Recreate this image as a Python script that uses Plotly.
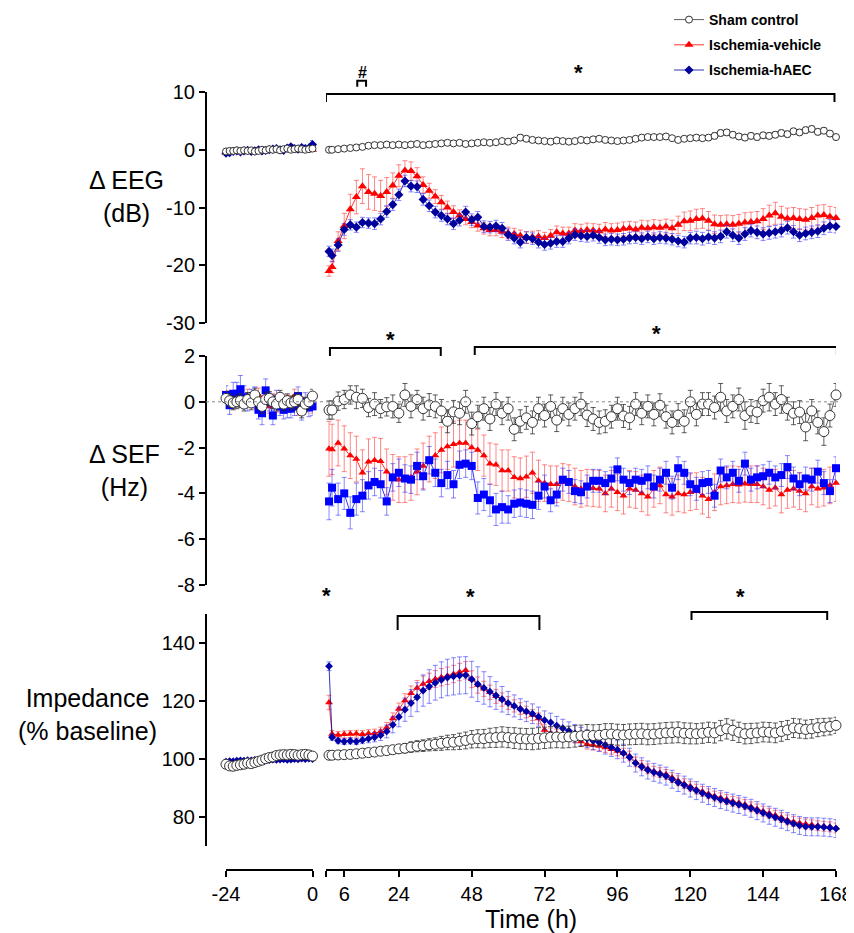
import plotly.graph_objects as go

# ---------------- DATA ----------------
hours_base = [-24, -23, -22, -21, -20, -19, -18, -17, -16, -15, -14, -13, -12,
              -11, -10, -9, -8, -7, -6, -5, -4, -3, -2, -1, 0]
hours_post = [1,
              2, 4, 6, 8, 10, 12, 14, 16, 18, 20,
              22, 24, 26, 28, 30, 32, 34, 36, 38, 40,
              42, 44, 46, 48, 50, 52, 54, 56, 58, 60,
              62, 64, 66, 68, 70, 72, 74, 76, 78, 80,
              82, 84, 86, 88, 90, 92, 94, 96, 98, 100,
              102, 104, 106, 108, 110, 112, 114, 116, 118, 120,
              122, 124, 126, 128, 130, 132, 134, 136, 138, 140,
              142, 144, 146, 148, 150, 152, 154, 156, 158, 160,
              162, 164, 166, 168]
x_ticks_post = [0, 6, 24, 48, 72, 96, 120, 144, 168]
x_ticktext_post = ["", "6", "24", "48", "72", "96", "120", "144", "168"]
x_ticks_base = [-24, 0]
x_ticktext_base = ["-24", "0"]
eeg_ticks = [-30, -20, -10, 0, 10]
eeg_ticktext = ["-30", "-20", "-10", "0", "10"]
sef_ticks = [-8, -6, -4, -2, 0, 2]
sef_ticktext = ["-8", "-6", "-4", "-2", "0", "2"]
imp_ticks = [80, 100, 120, 140]
imp_ticktext = ["80", "100", "120", "140"]

# ---- EEG (dB) ----
eeg_sham_base = [-0.3, -0.2, -0.2, -0.1, -0.2, -0.1, -0.2, -0.1, -0.3, -0.2, 0.0, -0.1, 0.1,
                 0.0, 0.1, -0.1, 0.1, 0.2, 0.0, 0.1, 0.2, 0.1, 0.0, 0.1, 0.2]
eeg_veh_base = [-0.5, -0.4, -0.4, -0.3, -0.3, -0.2, -0.4, -0.3, -0.2, -0.3, -0.1, -0.2, -0.1,
                0.0, -0.1, -0.1, 0.0, 0.1, 0.0, -0.1, 0.0, 0.1, 0.0, 0.1, 0.0]
eeg_haec_base = [-0.6, -0.5, -0.3, -0.2, -0.4, -0.2, -0.1, -0.3, -0.2, 0.0, -0.2, -0.1, 0.0,
                 0.1, 0.2, 0.0, -0.1, 0.3, 0.5, 0.2, 0.1, 0.4, 0.2, 0.3, 0.9]
eeg_sham_base_err = [0.2, 0.2, 0.2, 0.2, 0.2, 0.2, 0.2, 0.2, 0.2, 0.2, 0.2, 0.2, 0.2,
                     0.2, 0.2, 0.2, 0.2, 0.2, 0.2, 0.2, 0.2, 0.2, 0.2, 0.2, 0.2]
eeg_veh_base_err = [0.3, 0.3, 0.3, 0.3, 0.3, 0.3, 0.3, 0.3, 0.3, 0.3, 0.3, 0.3, 0.3,
                    0.3, 0.3, 0.3, 0.3, 0.3, 0.3, 0.3, 0.3, 0.3, 0.3, 0.3, 0.3]
eeg_haec_base_err = [0.3, 0.3, 0.3, 0.3, 0.3, 0.3, 0.3, 0.3, 0.3, 0.3, 0.3, 0.3, 0.3,
                     0.3, 0.3, 0.3, 0.3, 0.4, 0.4, 0.3, 0.3, 0.4, 0.3, 0.4, 0.7]

eeg_sham = [0.0,
            0.0, 0.1, 0.2, 0.3, 0.4, 0.5, 0.7, 0.8, 0.8, 0.9,
            0.8, 0.9, 0.8, 0.9, 1.0, 0.8, 0.9, 1.0, 1.1, 1.2,
            1.1, 1.2, 1.0, 1.1, 1.2, 1.3, 1.2, 1.3, 1.5, 1.4,
            1.6, 2.1, 1.9, 1.7, 1.6, 1.5, 1.4, 1.6, 1.5, 1.4,
            1.5, 1.7, 1.6, 1.8, 1.9, 1.7, 1.6, 1.5, 1.6, 1.7,
            1.9, 2.1, 2.2, 2.2, 2.2, 2.3, 2.0, 1.7, 1.9, 2.0,
            2.1, 2.0, 2.1, 2.4, 2.9, 3.0, 2.6, 2.3, 2.1, 2.4,
            2.2, 2.5, 2.4, 2.6, 2.9, 2.7, 3.2, 3.0, 3.4, 3.6,
            3.1, 3.3, 2.8, 2.2]
eeg_veh = [-21.0,
           -20.3, -15.8, -13.2, -10.3, -8.2, -6.3, -7.3, -7.6, -8.0, -7.3,
           -6.2, -4.5, -3.6, -3.7, -4.6, -6.1, -7.1, -8.1, -9.1, -10.0,
           -10.8, -11.4, -12.0, -12.5, -13.1, -13.6, -13.9, -13.9, -14.2, -14.4,
           -14.6, -14.9, -15.2, -15.1, -15.0, -15.3, -14.9, -14.3, -14.5, -14.5,
           -14.0, -14.1, -13.9, -14.0, -14.1, -13.8, -14.0, -13.9, -13.7, -13.6,
           -13.8, -13.5, -13.6, -13.4, -13.5, -13.3, -13.6, -13.0, -12.4, -12.3,
           -12.0, -11.9, -12.3, -12.9, -13.0, -12.9, -13.0, -12.8, -12.6, -12.5,
           -12.4, -12.0, -11.4, -11.0, -11.6, -11.9, -11.8, -12.0, -12.1, -11.8,
           -11.4, -11.3, -11.6, -11.8]
eeg_haec = [-17.6,
            -18.3, -16.5, -13.8, -13.0, -13.4, -12.6, -12.7, -12.8, -12.0, -10.7,
            -9.5, -7.8, -5.4, -6.3, -6.4, -8.6, -9.7, -10.8, -11.4, -12.0,
            -12.8, -12.2, -10.8, -12.1, -11.7, -13.3, -13.4, -13.2, -13.6, -14.7,
            -15.3, -16.0, -15.2, -15.4, -16.0, -16.4, -16.2, -15.9, -15.9, -15.3,
            -14.7, -14.9, -15.0, -14.8, -15.2, -15.6, -15.5, -15.6, -15.5, -15.3,
            -15.2, -15.4, -15.1, -15.4, -15.2, -15.3, -15.5, -15.8, -16.0, -15.3,
            -15.2, -15.4, -15.1, -15.3, -15.0, -14.2, -14.8, -15.3, -14.6, -14.0,
            -14.3, -14.6, -14.4, -14.2, -14.0, -13.5, -14.2, -14.8, -14.5, -14.3,
            -14.1, -13.6, -13.2, -13.3]
eeg_sham_err = [0.2,
                0.2, 0.2, 0.2, 0.2, 0.3, 0.3, 0.3, 0.3, 0.3, 0.3,
                0.3, 0.3, 0.3, 0.3, 0.3, 0.3, 0.3, 0.3, 0.3, 0.3,
                0.3, 0.3, 0.3, 0.3, 0.3, 0.3, 0.3, 0.3, 0.4, 0.4,
                0.4, 0.5, 0.4, 0.4, 0.4, 0.4, 0.4, 0.4, 0.4, 0.4,
                0.4, 0.4, 0.4, 0.4, 0.4, 0.4, 0.4, 0.4, 0.4, 0.4,
                0.4, 0.4, 0.4, 0.4, 0.4, 0.4, 0.4, 0.4, 0.4, 0.4,
                0.4, 0.4, 0.4, 0.5, 0.5, 0.5, 0.5, 0.5, 0.5, 0.5,
                0.5, 0.5, 0.5, 0.5, 0.5, 0.5, 0.5, 0.5, 0.5, 0.5,
                0.5, 0.5, 0.5, 0.5]
eeg_veh_err = [0.9,
               1.0, 1.6, 2.2, 2.6, 2.9, 3.0, 3.0, 2.9, 2.7, 2.5,
               2.2, 1.9, 1.7, 1.6, 1.5, 1.4, 1.3, 1.2, 1.2, 1.1,
               1.1, 1.0, 1.0, 1.0, 1.0, 1.0, 1.0, 1.0, 1.0, 1.0,
               1.0, 1.0, 1.0, 1.0, 1.0, 1.0, 1.1, 1.1, 1.1, 1.1,
               1.2, 1.2, 1.2, 1.2, 1.2, 1.2, 1.2, 1.2, 1.2, 1.2,
               1.3, 1.3, 1.3, 1.3, 1.3, 1.3, 1.4, 1.5, 1.6, 1.7,
               1.7, 1.7, 1.6, 1.6, 1.6, 1.6, 1.6, 1.6, 1.7, 1.7,
               1.7, 1.8, 1.8, 1.9, 1.8, 1.8, 1.8, 1.8, 1.8, 1.8,
               1.8, 1.8, 1.8, 1.8]
eeg_haec_err = [0.9,
                1.1, 1.1, 1.0, 0.9, 0.9, 0.9, 0.9, 1.0, 1.0, 1.0,
                1.0, 1.0, 1.0, 1.0, 1.0, 1.0, 1.0, 1.0, 1.0, 1.0,
                1.0, 1.0, 1.0, 1.0, 1.0, 1.0, 1.0, 1.0, 1.0, 1.0,
                1.0, 1.0, 1.0, 1.0, 1.0, 1.0, 1.0, 1.0, 1.0, 1.0,
                1.0, 1.0, 1.0, 1.0, 1.0, 1.0, 1.0, 1.0, 1.0, 1.0,
                1.0, 1.0, 1.0, 1.0, 1.0, 1.0, 1.0, 1.0, 1.0, 1.0,
                1.1, 1.1, 1.1, 1.1, 1.1, 1.1, 1.1, 1.1, 1.1, 1.1,
                1.1, 1.1, 1.1, 1.1, 1.1, 1.1, 1.1, 1.1, 1.1, 1.1,
                1.1, 1.1, 1.1, 1.1]

# ---- SEF (Hz) ----
sef_sham_base = [0.15, 0.05, -0.05, 0.0, 0.05, -0.1, 0.1, -0.05, 0.3, 0.0, -0.2, 0.1, 0.15,
                 0.0, -0.1, 0.2, -0.1, 0.05, -0.05, 0.0, 0.1, -0.4, -0.1, 0.0, 0.25]
sef_veh_base = [0.2, 0.15, 0.0, 0.2, 0.1, 0.05, 0.25, 0.1, 0.0, 0.3, -0.05, 0.1, -0.2,
                0.05, -0.15, -0.1, -0.2, 0.0, -0.05, 0.25, -0.3, -0.1, -0.15, -0.05, -0.2]
sef_haec_base = [0.3, -0.15, 0.35, 0.35, 0.55, 0.2, 0.0, 0.15, 0.25, -0.35, -0.5, 0.5, 0.0,
                 -0.6, 0.1, -0.2, -0.35, -0.3, -0.3, -0.2, 0.25, -0.4, 0.0, -0.25, -0.2]
sef_sham_base_err = [0.3, 0.3, 0.3, 0.3, 0.3, 0.3, 0.3, 0.3, 0.3, 0.3, 0.3, 0.3, 0.3,
                     0.3, 0.3, 0.3, 0.3, 0.3, 0.3, 0.3, 0.3, 0.3, 0.3, 0.3, 0.3]
sef_veh_base_err = [0.3, 0.3, 0.3, 0.3, 0.3, 0.3, 0.3, 0.3, 0.3, 0.3, 0.3, 0.3, 0.3,
                    0.3, 0.3, 0.3, 0.3, 0.3, 0.3, 0.3, 0.3, 0.3, 0.3, 0.3, 0.3]
sef_haec_base_err = [0.4, 0.4, 0.5, 0.5, 0.6, 0.5, 0.4, 0.4, 0.4, 0.4, 0.5, 0.5, 0.4,
                     0.4, 0.4, 0.4, 0.4, 0.4, 0.4, 0.4, 0.4, 0.4, 0.4, 0.4, 0.4]

sef_sham = [-0.36,
            -0.36, 0.03, 0.1, 0.3, 0.2, 0.15, -0.25, -0.1, -0.3, -0.22,
            -0.2, -0.5, 0.3, -0.2, 0.1, -0.3, -0.14, -0.2, -0.4, -0.85,
            -0.44, -0.5, 0.0, -0.95, -0.65, -0.3, -0.75, -0.1, -0.5, -0.3,
            -1.2, -0.85, -0.7, -0.9, -0.3, -0.6, -0.2, -0.8, -0.3, -0.55,
            -0.3, -0.1, -0.58, -0.75, -0.9, -0.85, -0.65, -0.3, -0.62, -0.7,
            -0.1, -0.5, -0.2, -0.55, -0.15, -0.65, -0.9, -0.58, -0.85, 0.0,
            -0.55, -0.1, -0.1, -0.25, 0.2, -0.4, -0.2, 0.1, -0.6, -0.4,
            -0.45, 0.05, 0.2, -0.1, 0.1, -0.3, -0.5, -0.45, -1.1, -0.4,
            -0.9, -1.3, -0.6, 0.3]
sef_veh = [-2.05,
           -2.08, -1.8, -2.05, -2.35, -2.5, -3.1, -2.62, -2.55, -2.6, -3.06,
           -3.3, -3.4, -3.4, -3.3, -3.06, -2.8, -2.5, -2.35, -2.1, -1.95,
           -1.85, -1.8, -1.8, -2.0, -2.1, -2.35, -2.7, -2.75, -3.0, -3.0,
           -3.3, -3.35, -3.27, -3.1, -3.45, -3.55, -3.6, -3.6, -3.5, -3.55,
           -3.7, -3.8, -3.75, -3.78, -3.8, -4.0, -3.8, -3.95, -4.1, -3.8,
           -3.85, -4.0, -4.15, -3.8, -3.65, -4.05, -4.15, -4.0, -4.05, -3.95,
           -3.9, -4.1, -4.25, -3.95, -3.7, -3.65, -3.6, -3.62, -3.58, -3.6,
           -3.6, -3.7, -3.85, -3.75, -4.05, -3.85, -3.8, -3.9, -4.0, -3.7,
           -3.8, -3.75, -3.65, -3.55]
sef_haec = [-4.35,
            -3.75, -4.25, -4.0, -4.85, -4.25, -4.1, -3.65, -3.5, -3.6, -4.35,
            -3.3, -3.1, -3.35, -3.4, -2.8, -3.25, -2.55, -3.1, -3.55, -3.2,
            -3.6, -2.75, -2.7, -2.8, -4.2, -4.05, -4.3, -4.7, -4.6, -4.7,
            -4.45, -4.4, -4.45, -4.5, -4.1, -3.7, -4.3, -4.05, -3.4, -3.5,
            -3.9, -3.95, -3.7, -3.45, -3.45, -3.55, -3.35, -2.95, -3.4, -3.55,
            -3.4, -3.45, -3.3, -3.7, -3.4, -3.1, -3.75, -2.9, -3.1, -3.6,
            -3.8, -3.55, -3.5, -4.1, -3.0, -3.3, -3.1, -3.45, -2.7, -3.4,
            -3.3, -3.25, -3.1, -3.3, -3.2, -2.85, -3.35, -3.6, -3.35, -3.4,
            -3.05, -3.55, -3.9, -2.9]
sef_sham_err = [0.4,
                0.4, 0.4, 0.4, 0.4, 0.5, 0.4, 0.4, 0.5, 0.4, 0.4,
                0.5, 0.4, 0.5, 0.5, 0.4, 0.5, 0.5, 0.5, 0.5, 0.5,
                0.5, 0.5, 0.5, 0.5, 0.5, 0.5, 0.5, 0.5, 0.5, 0.5,
                0.5, 0.5, 0.5, 0.5, 0.5, 0.5, 0.5, 0.5, 0.5, 0.5,
                0.5, 0.5, 0.5, 0.5, 0.5, 0.5, 0.5, 0.5, 0.5, 0.5,
                0.5, 0.5, 0.5, 0.5, 0.5, 0.5, 0.5, 0.5, 0.5, 0.5,
                0.5, 0.5, 0.5, 0.5, 0.6, 0.5, 0.5, 0.5, 0.6, 0.5,
                0.5, 0.5, 0.6, 0.5, 0.6, 0.5, 0.5, 0.5, 0.6, 0.5,
                0.5, 0.6, 0.5, 0.5]
sef_veh_err = [1.2,
               1.1, 1.0, 1.0, 1.0, 1.0, 1.0, 1.0, 1.0, 1.0, 1.0,
               1.0, 1.0, 1.0, 1.0, 1.0, 1.0, 1.0, 1.0, 1.0, 1.0,
               1.0, 1.0, 1.0, 0.9, 0.9, 0.9, 0.9, 0.9, 0.9, 0.9,
               0.9, 0.9, 0.9, 0.9, 0.9, 0.8, 0.8, 0.8, 0.8, 0.8,
               0.8, 0.8, 0.8, 0.8, 0.8, 0.8, 0.8, 0.8, 0.8, 0.8,
               0.8, 0.8, 0.8, 0.8, 0.8, 0.8, 0.8, 0.8, 0.8, 0.8,
               0.8, 0.8, 0.8, 0.8, 0.8, 0.8, 0.8, 0.8, 0.8, 0.8,
               0.8, 0.8, 0.8, 0.8, 0.8, 0.8, 0.8, 0.8, 0.8, 0.8,
               0.8, 0.8, 0.8, 0.8]
sef_haec_err = [0.8,
                0.8, 0.7, 0.7, 0.7, 0.7, 0.7, 0.6, 0.6, 0.6, 0.6,
                0.6, 0.6, 0.6, 0.6, 0.6, 0.6, 0.6, 0.6, 0.6, 0.6,
                0.6, 0.6, 0.6, 0.6, 0.7, 0.7, 0.7, 0.7, 0.7, 0.6,
                0.6, 0.6, 0.6, 0.6, 0.6, 0.5, 0.5, 0.5, 0.5, 0.5,
                0.5, 0.5, 0.5, 0.5, 0.5, 0.5, 0.5, 0.5, 0.5, 0.5,
                0.5, 0.5, 0.5, 0.5, 0.5, 0.5, 0.5, 0.5, 0.5, 0.5,
                0.5, 0.5, 0.5, 0.5, 0.5, 0.5, 0.5, 0.5, 0.5, 0.5,
                0.5, 0.5, 0.5, 0.5, 0.5, 0.5, 0.5, 0.5, 0.5, 0.5,
                0.5, 0.5, 0.5, 0.5]

# ---- Impedance (% baseline) ----
imp_sham_base = [98.2, 97.6, 97.5, 97.8, 98.0, 98.2, 98.6, 98.4, 98.8, 99.2, 99.6, 100.1, 100.5,
                 100.7, 101.2, 101.4, 101.5, 101.4, 101.6, 101.5, 101.3, 101.5, 101.6, 101.4, 101.0]
imp_veh_base = [99.0, 99.2, 99.3, 99.2, 99.4, 99.3, 99.5, 99.4, 99.6, 99.5, 99.4, 99.6, 99.7,
                99.5, 99.6, 99.8, 99.7, 99.8, 99.7, 99.9, 99.8, 100.0, 99.9, 100.0, 100.1]
imp_haec_base = [99.1, 99.3, 99.2, 99.4, 99.5, 99.4, 99.6, 99.5, 99.7, 99.6, 99.5, 99.7, 99.6,
                 99.8, 99.7, 99.8, 99.9, 99.7, 99.8, 100.0, 99.9, 100.1, 100.0, 100.1, 100.0]
imp_sham_base_err = [1.0, 1.0, 1.0, 1.0, 1.0, 1.0, 0.8, 0.8, 0.8, 0.8, 0.8, 0.8, 0.6,
                     0.6, 0.6, 0.6, 0.6, 0.6, 0.5, 0.5, 0.5, 0.5, 0.5, 0.5, 0.5]
imp_veh_base_err = [0.5, 0.5, 0.5, 0.5, 0.5, 0.5, 0.5, 0.5, 0.5, 0.5, 0.5, 0.5, 0.5,
                    0.5, 0.5, 0.5, 0.5, 0.5, 0.5, 0.5, 0.5, 0.5, 0.5, 0.5, 0.5]
imp_haec_base_err = [0.5, 0.5, 0.5, 0.5, 0.5, 0.5, 0.5, 0.5, 0.5, 0.5, 0.5, 0.5, 0.5,
                     0.5, 0.5, 0.5, 0.5, 0.5, 0.5, 0.5, 0.5, 0.5, 0.5, 0.5, 0.5]

imp_sham = [101.3,
            101.3, 101.4, 101.5, 101.6, 101.8, 102.0, 102.2, 102.4, 102.7, 102.9,
            103.2, 103.5, 103.7, 104.1, 104.4, 104.6, 104.9, 105.1, 105.4, 105.7,
            105.8, 106.1, 106.4, 106.8, 107.0, 107.0, 107.3, 107.4, 107.6, 107.4,
            107.2, 107.0, 106.9, 106.9, 107.1, 107.3, 107.5, 107.6, 107.5, 107.6,
            107.8, 108.0, 108.2, 108.1, 108.2, 108.5, 108.6, 108.4, 108.3, 108.5,
            108.6, 108.7, 108.5, 108.6, 108.8, 109.0, 109.1, 109.2, 108.9, 108.8,
            108.7, 108.9, 109.2, 109.0, 109.8, 110.4, 109.9, 109.2, 108.7, 108.8,
            109.0, 109.3, 109.2, 109.0, 109.5, 110.0, 110.7, 110.5, 110.2, 110.4,
            110.8, 111.0, 111.2, 111.6]
imp_veh = [119.5,
           108.6, 108.3, 108.5, 108.6, 108.7, 108.5, 108.8, 108.9, 109.5, 110.9,
           114.0, 117.2, 120.2, 122.7, 124.5, 125.9, 126.8, 127.6, 128.2, 128.7,
           129.3, 130.0, 130.6, 127.5, 125.5, 124.2, 123.0, 121.6, 120.5, 119.3,
           118.3, 117.4, 116.2, 115.2, 114.0, 110.0, 108.9, 108.6, 108.3, 107.8,
           107.2, 106.0, 105.1, 104.8, 104.5, 104.0, 103.4, 102.8, 102.0, 101.0,
           99.0, 97.8, 96.6, 95.8, 95.3, 94.7, 93.6, 92.5, 91.5, 90.6,
           89.6, 88.8, 88.0, 87.2, 86.6, 86.0, 85.4, 84.9, 84.3, 83.5,
           82.8, 82.0, 81.3, 80.6, 79.8, 79.0, 78.4, 77.9, 77.6, 77.3,
           77.0, 76.8, 76.6, 76.2]
imp_haec = [132.0,
            107.5, 106.3, 106.0, 106.2, 106.0, 106.5, 107.0, 107.5, 108.2, 109.5,
            111.8, 114.5, 117.0, 119.3, 121.3, 123.6, 125.0, 126.3, 127.3, 128.1,
            128.5, 128.8, 128.9, 127.5, 125.8, 124.5, 123.2, 121.9, 120.6, 119.3,
            118.3, 117.2, 116.4, 115.6, 114.6, 113.4, 112.6, 111.5, 110.6, 109.7,
            108.8, 107.8, 107.0, 106.3, 105.7, 104.8, 104.0, 103.2, 102.0, 100.6,
            98.6, 97.3, 96.2, 95.4, 94.8, 94.1, 93.0, 91.9, 91.0, 90.0,
            89.1, 88.2, 87.4, 86.7, 86.0, 85.4, 84.8, 84.3, 83.7, 83.0,
            82.2, 81.4, 80.6, 79.9, 79.2, 78.4, 77.7, 77.1, 76.7, 76.6,
            76.6, 76.5, 76.3, 76.0]
imp_sham_err = [0.8,
                0.8, 0.8, 0.9, 0.9, 1.0, 1.0, 1.0, 1.1, 1.2, 1.3,
                1.4, 1.5, 1.6, 1.8, 1.9, 2.0, 2.1, 2.2, 2.4, 2.5,
                2.6, 2.8, 2.9, 3.0, 3.1, 3.2, 3.3, 3.4, 3.5, 3.5,
                3.6, 3.6, 3.6, 3.7, 3.7, 3.7, 3.7, 3.7, 3.7, 3.7,
                3.7, 3.7, 3.7, 3.7, 3.7, 3.7, 3.6, 3.6, 3.6, 3.6,
                3.6, 3.6, 3.6, 3.6, 3.6, 3.6, 3.6, 3.6, 3.6, 3.6,
                3.5, 3.5, 3.5, 3.5, 3.5, 3.5, 3.5, 3.5, 3.5, 3.5,
                3.4, 3.4, 3.4, 3.4, 3.4, 3.3, 3.3, 3.3, 3.2, 3.2,
                3.1, 3.0, 2.9, 2.8]
imp_veh_err = [2.5,
               1.2, 1.2, 1.2, 1.2, 1.2, 1.3, 1.3, 1.4, 1.5, 1.7,
               1.9, 2.1, 2.3, 2.5, 2.6, 2.7, 2.8, 2.9, 3.0, 3.0,
               3.0, 3.0, 3.0, 2.9, 2.8, 2.6, 2.5, 2.4, 2.3, 2.2,
               2.1, 2.0, 2.0, 1.9, 1.9, 1.8, 1.8, 1.7, 1.7, 1.7,
               1.7, 1.7, 1.7, 1.7, 1.7, 1.7, 1.7, 1.7, 1.7, 1.7,
               1.7, 1.7, 1.7, 1.7, 1.7, 1.7, 1.7, 1.7, 1.7, 1.7,
               1.7, 1.7, 1.7, 1.7, 1.7, 1.7, 1.7, 1.7, 1.7, 1.7,
               1.7, 1.7, 1.7, 1.7, 1.7, 1.7, 1.7, 1.7, 1.7, 1.7,
               1.7, 1.7, 1.7, 1.7]
imp_haec_err = [1.5,
                1.0, 1.0, 1.0, 1.0, 1.0, 1.2, 1.4, 1.6, 1.8, 2.2,
                2.8, 3.4, 4.0, 4.6, 5.0, 5.4, 5.8, 6.0, 6.2, 6.3,
                6.4, 6.4, 6.4, 6.2, 6.0, 5.6, 5.2, 4.8, 4.4, 4.0,
                3.8, 3.6, 3.5, 3.4, 3.3, 3.2, 3.2, 3.2, 3.1, 3.1,
                3.1, 3.1, 3.1, 3.1, 3.1, 3.1, 3.1, 3.1, 3.1, 3.1,
                3.1, 3.1, 3.1, 3.1, 3.1, 3.1, 3.1, 3.1, 3.1, 3.1,
                3.1, 3.1, 3.1, 3.1, 3.1, 3.1, 3.1, 3.1, 3.1, 3.1,
                3.1, 3.1, 3.1, 3.1, 3.1, 3.1, 3.1, 3.1, 3.1, 3.1,
                3.1, 3.1, 3.1, 3.1]

for arr in [eeg_sham, eeg_veh, eeg_haec, eeg_sham_err, eeg_veh_err, eeg_haec_err,
            sef_sham, sef_veh, sef_haec, sef_sham_err, sef_veh_err, sef_haec_err,
            imp_sham, imp_veh, imp_haec, imp_sham_err, imp_veh_err, imp_haec_err]:
    assert len(arr) == len(hours_post), len(arr)
for arr in [eeg_sham_base, eeg_veh_base, eeg_haec_base, sef_sham_base, sef_veh_base,
            sef_haec_base, imp_sham_base, imp_veh_base, imp_haec_base]:
    assert len(arr) == len(hours_base), len(arr)

# ---------------- LAYOUT HELPERS ----------------
# the page body has an 8px margin: the figure is drawn from (8, 8)
OFF = 8
W, H = 854 - OFF, 933 - OFF
FONT = "Liberation Sans, Arial, sans-serif"


def fx(p):
    return (p - OFF) / W


def fy(p):
    return 1 - (p - OFF) / H


RED = "#ff0000"
RED_ERR = "rgba(255,70,70,0.65)"
SHAM_LINE = "#333333"
SHAM_ERR = "rgba(40,40,40,0.75)"

fig = go.Figure()

panels = [
    dict(ya="y", base=(eeg_veh_base, eeg_haec_base, eeg_sham_base),
         base_err=(eeg_veh_base_err, eeg_haec_base_err, eeg_sham_base_err),
         post=(eeg_veh, eeg_haec, eeg_sham), post_err=(eeg_veh_err, eeg_haec_err, eeg_sham_err),
         blue="#00009c", bsym="diamond", sizes=(8, 7, 7), legend=True),
    dict(ya="y2", base=(sef_veh_base, sef_haec_base, sef_sham_base),
         base_err=(sef_veh_base_err, sef_haec_base_err, sef_sham_base_err),
         post=(sef_veh, sef_haec, sef_sham), post_err=(sef_veh_err, sef_haec_err, sef_sham_err),
         blue="#0000ff", bsym="square", sizes=(7, 8, 10), legend=False),
    dict(ya="y3", base=(imp_veh_base, imp_haec_base, imp_sham_base),
         base_err=(imp_veh_base_err, imp_haec_base_err, imp_sham_base_err),
         post=(imp_veh, imp_haec, imp_sham), post_err=(imp_veh_err, imp_haec_err, imp_sham_err),
         blue="#0000a8", bsym="diamond", sizes=(7, 6, 10), legend=False),
]

names = ["<b>Ischemia-vehicle</b>", "<b>Ischemia-hAEC</b>", "<b>Sham control</b>"]
ranks = [2, 3, 1]

for p in panels:
    blue_err = "rgba(40,40,255,0.55)"
    styles = [
        dict(sym="triangle-up", fill=RED, lc=RED, line=RED, err=RED_ERR),
        dict(sym=p["bsym"], fill=p["blue"], lc=p["blue"], line=p["blue"], err=blue_err),
        dict(sym="circle", fill="white", lc=SHAM_LINE, line=SHAM_LINE, err=SHAM_ERR),
    ]
    for seg, xa, xs in [("base", "x", hours_base), ("post", "x2", hours_post)]:
        ys = p[seg]
        es = p[seg + "_err"]
        for i in range(3):
            st = styles[i]
            show = p["legend"] and seg == "post"
            fig.add_trace(go.Scatter(
                x=xs, y=ys[i], xaxis=xa, yaxis=p["ya"],
                mode="lines+markers",
                name=names[i], legendrank=ranks[i], legendgroup=str(i),
                showlegend=show,
                line=dict(color=st["line"], width=0.8),
                marker=dict(symbol=st["sym"], size=p["sizes"][i], color=st["fill"],
                            line=dict(color=st["lc"], width=1 if i == 2 else 0)),
                error_y=dict(type="data", array=es[i], color=st["err"], thickness=1, width=2.5),
                cliponaxis=False, hoverinfo="skip",
            ))

axis_common = dict(showline=True, linecolor="black", linewidth=2, ticks="outside",
                   ticklen=6, tickwidth=2, tickcolor="black", showgrid=False, zeroline=False,
                   tickfont=dict(family=FONT, size=20, color="black"))

XAXIS_Y = 870
YAXIS_X = 206

fig.update_layout(
    width=W, height=H, margin=dict(l=0, r=0, t=0, b=0, autoexpand=False),
    plot_bgcolor="white", paper_bgcolor="white",
    font=dict(family=FONT, size=20, color="black"),
    xaxis=dict(domain=[fx(226), fx(312.5)], range=[-24, 0], anchor="free", position=fy(XAXIS_Y),
               tickvals=x_ticks_base, ticktext=x_ticktext_base, **axis_common),
    xaxis2=dict(domain=[fx(326), fx(836)], range=[0, 168], anchor="free", position=fy(XAXIS_Y),
                tickvals=x_ticks_post, ticktext=x_ticktext_post, **axis_common),
    yaxis=dict(domain=[fy(323), fy(92)], range=[-30, 10], tickvals=eeg_ticks,
               ticktext=eeg_ticktext, anchor="free", position=fx(YAXIS_X), **axis_common),
    yaxis2=dict(domain=[fy(585), fy(356)], range=[-8, 2], tickvals=sef_ticks,
                ticktext=sef_ticktext, anchor="free", position=fx(YAXIS_X), **axis_common),
    yaxis3=dict(domain=[fy(846), fy(614)], range=[70, 150], tickvals=imp_ticks,
                ticktext=imp_ticktext, anchor="free", position=fx(YAXIS_X), **axis_common),
    showlegend=True,
    legend=dict(x=fx(669), y=fy(4), xanchor="left", yanchor="top", traceorder="grouped",
                tracegroupgap=4, itemwidth=30, bgcolor="rgba(0,0,0,0)",
                font=dict(family=FONT, size=14, color="black")),
)

# axis titles
titles = [("Δ EEG<br>(dB)", 126, 196), ("Δ SEF<br>(Hz)", 124, 470),
          ("Impedance<br>(% baseline)", 87, 714), ("Time (h)", 531, 919)]
for txt, tx, ty in titles:
    fig.add_annotation(text=txt, x=fx(tx), y=fy(ty), xref="paper", yref="paper",
                       showarrow=False, xanchor="center", yanchor="middle",
                       font=dict(family=FONT, size=25, color="black"))

# dotted zero line in SEF panel
fig.add_shape(type="line", xref="paper", yref="y2", x0=fx(YAXIS_X), x1=fx(838), y0=0, y1=0,
              line=dict(color="#888888", width=1, dash="dot"))

# significance brackets: (x0 h, x1 h, top px, leg px)
brackets = [(0, 167.5, 94, 102), (1.3, 37.8, 348, 356), (49, 168.3, 347, 355),
            (23.6, 70.3, 616, 630), (120.4, 165.1, 612, 620)]
for x0, x1, yt, yl in brackets:
    fig.add_shape(type="path", xref="x2", yref="paper",
                  path=f"M {x0},{fy(yl)} L {x0},{fy(yt)} L {x1},{fy(yt)} L {x1},{fy(yl)}",
                  line=dict(color="black", width=2))
# small '#' bracket
fig.add_shape(type="path", xref="x2", yref="paper",
              path=f"M 10.3,{fy(86.7)} L 10.3,{fy(80.7)} L 13.2,{fy(80.7)} L 13.2,{fy(86.7)}",
              line=dict(color="black", width=2))

stars = [(83.1, 73, "*", 22), (21.3, 339, "*", 22), (109, 334, "*", 22),
         (0, 595, "*", 22), (47.7, 596, "*", 22), (136.6, 596, "*", 22), (12, 73, "#", 16)]
for sx, sy, st, ss in stars:
    fig.add_annotation(text=f"<b>{st}</b>", x=sx, y=fy(sy), xref="x2", yref="paper",
                       showarrow=False, xanchor="center", yanchor="middle",
                       font=dict(family=FONT, size=ss, color="black"))

fig.write_html("out.html")
